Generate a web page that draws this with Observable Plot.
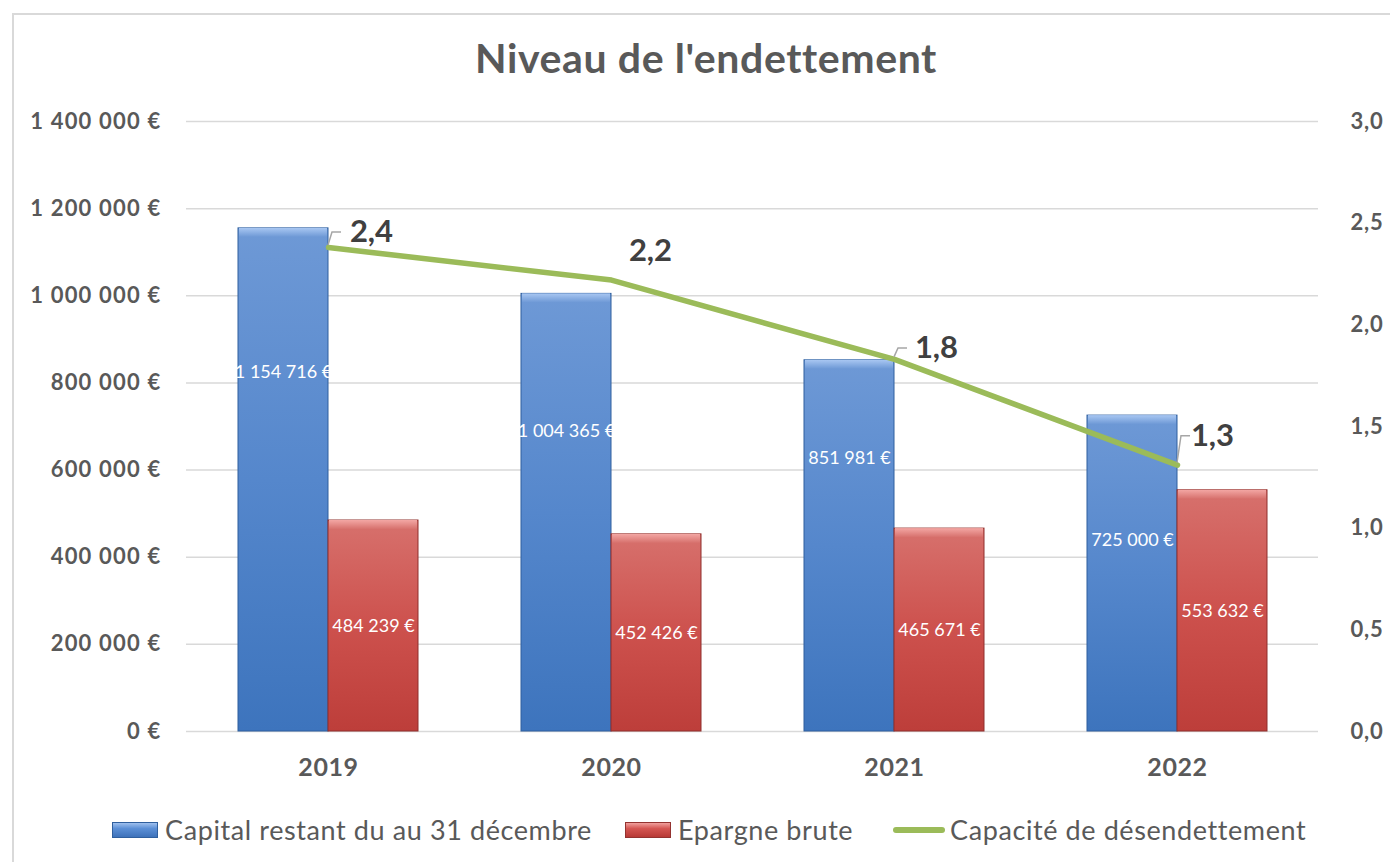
<!DOCTYPE html>
<html>
<head>
<meta charset="utf-8">
<script src="https://cdn.jsdelivr.net/npm/d3@7"></script>
<script src="https://cdn.jsdelivr.net/npm/@observablehq/plot@0.6"></script>
<style>
  html, body { margin: 0; padding: 0; background: #fff; }
  body { width: 1390px; height: 862px; position: relative; overflow: hidden; font-family: Lato, "Noto Sans", sans-serif; }
  #frame { position: absolute; left: 12px; top: 13px; width: 1400px; height: 870px; border-left: 2px solid #d9d9d9; border-top: 2px solid #d9d9d9; box-sizing: border-box; }
  #title { position: absolute; left: 0; width: 1412px; top: 33px; text-align: center; font-size: 41px; letter-spacing: 0.6px; font-weight: 700; color: #595959; }
  #chart { position: absolute; left: 0; top: 0; }
  .item { position: absolute; top: 813px; display: flex; align-items: center; font-size: 27px; letter-spacing: 0.6px; color: #595959; white-space: nowrap; }
  .sw { display: inline-block; width: 46px; height: 16px; margin-right: 7px; box-sizing: border-box; }
  .sw.blue { background: linear-gradient(#9fc0ee, #5b8fd6 40%, #3e72ba); border: 1px solid #2f5f9e; }
  .sw.red { background: linear-gradient(#f0a09d, #d45652 40%, #b83a36); border: 1px solid #943330; }
  .sw.line { width: 52px; height: 6px; border-radius: 3px; background: #9bbb59; margin-right: 5px; }
</style>
</head>
<body>
<div id="frame"></div>
<div id="title">Niveau de l'endettement</div>
<div id="chart"></div>
<div class="item" style="left:112px"><span class="sw blue"></span>Capital restant du au 31 décembre</div>
<div class="item" style="left:625px"><span class="sw red"></span>Epargne brute</div>
<div class="item" style="left:893px"><span class="sw line"></span>Capacité de désendettement</div>
<script>
// ---- Data ----
const years = ["2019", "2020", "2021", "2022"];
const capital = [1154716, 1004365, 851981, 725000];
const epargne = [484239, 452426, 465671, 553632];
const capacite = [2.38, 2.22, 1.83, 1.31];
const leftTicks = [0, 200000, 400000, 600000, 800000, 1000000, 1200000, 1400000];
const rightTicks = [0, 0.5, 1.0, 1.5, 2.0, 2.5, 3.0];

// ---- Derived tables ----
const yMax = 1400000, rMax = 3;
const k = yMax / rMax; // map right-axis units onto left scale
const rows = years.map((y, i) => ({year: y, capital: capital[i], epargne: epargne[i], cap: capacite[i], capY: capacite[i] * k}));

const euro = v => d3.format(",")(v).replace(/,/g, " ") + " €";
const comma1 = v => d3.format(".1f")(v).replace(".", ",");

const font = "Lato, 'Noto Sans', sans-serif";
const blueLabelDy = [144, 137, 98, 125];
const lineLabelOff = [[43, -15], [39, -29], [42, -11], [35, -29]];

const marks = [
  Plot.gridY(leftTicks, {stroke: "#d9d9d9", strokeOpacity: 1, strokeWidth: 1.5}),
  Plot.axisY(leftTicks, {tickSize: 0, tickPadding: 25, tickFormat: euro, fontSize: 22, fontWeight: 700, fill: "#595959", label: null}),
  Plot.axisY(rightTicks.map(v => v * k), {anchor: "right", tickSize: 0, tickPadding: 32, tickFormat: v => comma1(v / k), fontSize: 22, fontWeight: 700, fill: "#595959", label: null}),
  Plot.axisX({tickSize: 0, tickPadding: 27, fontSize: 25, fontWeight: 700, fill: "#595959", label: null}),
  // bars
  Plot.barY(rows, {x: "year", y: "capital", fill: "url(#gBlue)", stroke: "#2f5f9e", strokeWidth: 1, insetRight: 90}),
  Plot.barY(rows, {x: "year", y: "epargne", fill: "url(#gRed)", stroke: "#8f2f2c", strokeWidth: 1, insetLeft: 90}),
  // top bevel highlights
  Plot.barY(rows, {x: "year", y1: "capital", y2: "capital", insetRight: 91, insetLeft: 1, insetBottom: -9, fill: "url(#gBlueTop)"}),
  Plot.barY(rows, {x: "year", y1: "epargne", y2: "epargne", insetLeft: 91, insetRight: 1, insetBottom: -9, fill: "url(#gRedTop)"}),
  // red value labels (middle)
  Plot.text(rows, {x: "year", y: d => d.epargne / 2, text: d => euro(d.epargne), dx: 45, fill: "white", fontSize: 18, fontFamily: font}),
  // line
  Plot.line(rows, {x: "year", y: "capY", stroke: "#9bbb59", strokeWidth: 5.5})
];
years.forEach((yr, i) => {
  marks.push(Plot.text(rows.filter(d => d.year === yr), {x: "year", y: "capital", text: d => euro(d.capital), dx: -45, dy: blueLabelDy[i], fill: "white", fontSize: 18, fontFamily: font}));
  marks.push(Plot.text(rows.filter(d => d.year === yr), {x: "year", y: "capY", text: d => comma1(d.cap), dx: lineLabelOff[i][0], dy: lineLabelOff[i][1], fill: "#404040", fontSize: 31, fontWeight: 700, fontFamily: font}));
});

const chart = Plot.plot({
  width: 1390,
  height: 800,
  marginLeft: 186,
  marginRight: 72,
  marginTop: 121,
  marginBottom: 69,
  style: {fontFamily: font, background: "transparent", overflow: "visible"},
  x: {domain: years, paddingInner: 0.364, paddingOuter: 0.182},
  y: {domain: [0, yMax]},
  marks
});

document.getElementById("chart").appendChild(chart);

const svg = d3.select(chart);
// letter spacing to approximate the wider original typeface
svg.selectAll('g[aria-label="y-axis tick label"]').each(function () {
  const g = d3.select(this);
  const isRight = g.attr("text-anchor") === "start";
  g.selectAll("text").style("letter-spacing", isRight ? "0.8px" : "1.2px");
});
svg.selectAll('g[aria-label="x-axis tick label"] text').style("letter-spacing", "0.6px");

// gradients
const defs = svg.insert("defs", ":first-child");
function grad(id, stops) {
  const g = defs.append("linearGradient").attr("id", id).attr("x1", 0).attr("y1", 0).attr("x2", 0).attr("y2", 1);
  stops.forEach(([o, c]) => g.append("stop").attr("offset", o).attr("stop-color", c));
}
grad("gBlue", [[0, "#6e99d6"], [0.5, "#5587cc"], [1, "#3d74bd"]]);
grad("gRed", [[0, "#d7716d"], [0.5, "#cd514d"], [1, "#bd3e3a"]]);
grad("gBlueTop", [[0, "#a9c7f2"], [1, "#6e99d6"]]);
grad("gRedTop", [[0, "#f3a7a4"], [1, "#d7716d"]]);

// leader lines for line labels
const xs = chart.scale("x"), ys = chart.scale("y");
const bw = xs.bandwidth || 0;
[0, 2, 3].forEach(i => {
  const px = xs.apply(years[i]) + bw / 2;
  const py = ys.apply(capacite[i] * k);
  const ly = py + lineLabelOff[i][1];
  svg.append("path")
    .attr("d", `M${px},${py - 2} L${px + 4},${ly} L${px + 13},${ly}`)
    .attr("fill", "none").attr("stroke", "#a6a6a6").attr("stroke-width", 1.5);
});
</script>
</body>
</html>
